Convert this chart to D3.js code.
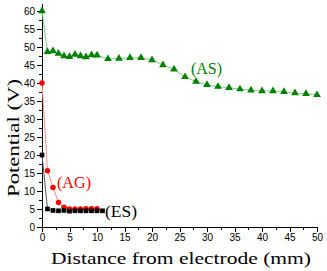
<!DOCTYPE html>
<html>
<head>
  <meta charset="utf-8">
  <script src="https://d3js.org/d3.v7.min.js"></script>
  <style>
    body { margin: 0; background: #fff; }
    .axis path, .axis line { fill: none; stroke: #000; shape-rendering: crispEdges; }
    .axis text { font-family: "Liberation Sans", Arial, sans-serif; font-size: 10px; fill: #000; }
    .lbl { font-family: "Liberation Serif", "Times New Roman", serif; }
  </style>
</head>
<body>
  <div id="chart"></div>
  <script>
    // distance (mm) and potential (V)
    const asX = [0, 1, 2, 3, 4, 5, 6, 7, 8, 9, 10, 12, 14, 16, 18, 20, 22, 24, 26, 28, 30, 32, 34, 36, 38, 40, 42, 44, 46, 48, 50];
    const asY = [60, 48.7, 48.9, 48.2, 47.5, 47.3, 47.9, 47.5, 47.2, 47.8, 47.7, 46.7, 46.8, 47.0, 47.0, 46.4, 45.0, 43.8, 41.7, 40.4, 39.5, 39.0, 38.7, 38.3, 38.0, 37.8, 37.8, 37.6, 37.2, 37.0, 36.7];
    const agX = [0, 1, 2, 3, 4, 5, 6, 7, 8, 9, 10];
    const agY = [40, 15.6, 11.0, 6.8, 5.5, 5.0, 5.0, 5.0, 5.1, 5.1, 5.1];
    const esX = [0, 1, 2, 3, 4, 5, 6, 7, 8, 9, 10, 11];
    const esY = [20, 5.0, 4.6, 4.5, 4.6, 4.4, 4.5, 4.5, 4.5, 4.5, 4.5, 4.5];
    const yTicks = [0, 5, 10, 15, 20, 25, 30, 35, 40, 45, 50, 55, 60];
    const xTicks = [0, 5, 10, 15, 20, 25, 30, 35, 40, 45, 50];

    const width = 327, height = 271;
    const svg = d3.select("#chart").append("svg")
      .attr("width", width).attr("height", height);

    const x = d3.scaleLinear().domain([0, 50]).range([42, 317]);
    const y = d3.scaleLinear().domain([0, 62]).range([227, 227 - 62 * 3.6]);

    // minor ticks first
    const minorX = d3.range(2.5, 50, 5);
    const minorY = d3.range(2.5, 62, 5);
    svg.append("g").attr("class", "axis").attr("transform", "translate(0,227)")
      .call(d3.axisBottom(x).tickValues(minorX).tickSize(3).tickFormat("")).select(".domain").remove();
    svg.append("g").attr("class", "axis").attr("transform", "translate(42,0)")
      .call(d3.axisLeft(y).tickValues(minorY).tickSize(3).tickFormat("")).select(".domain").remove();

    svg.append("g").attr("class", "axis").attr("transform", "translate(0,227)")
      .call(d3.axisBottom(x).tickValues(xTicks).tickSize(5).tickSizeOuter(0).tickPadding(2));
    svg.append("g").attr("class", "axis").attr("transform", "translate(42,0)")
      .call(d3.axisLeft(y).tickValues(yTicks).tickSize(5).tickSizeOuter(0).tickPadding(2));

    function series(xs, ys, lineColor, color, shape, size) {
      const pts = xs.map((d, i) => [d, ys[i]]);
      svg.append("path").datum(pts)
        .attr("fill", "none").attr("stroke", lineColor).attr("stroke-width", 1)
        .attr("d", d3.line().x(d => x(d[0])).y(d => y(d[1])));
      svg.append("g").selectAll("path").data(pts).join("path")
        .attr("transform", d => `translate(${x(d[0])},${y(d[1])})`)
        .attr("d", d3.symbol().type(shape).size(size))
        .attr("fill", color);
    }

    series(asX, asY, "#7ccf7c", "#008000", d3.symbolTriangle, 26);
    series(agX, agY, "#ff8a8a", "#ff0000", d3.symbolCircle, 24);
    series(esX, esY, "#555555", "#000000", d3.symbolSquare, 22);

    svg.append("text").attr("class", "lbl").attr("x", 191).attr("y", 74)
      .attr("font-size", 16).attr("fill", "#008000")
      .attr("textLength", 31).attr("lengthAdjust", "spacingAndGlyphs").text("(AS)");
    svg.append("text").attr("class", "lbl").attr("x", 57).attr("y", 188)
      .attr("font-size", 16).attr("fill", "#ff0000")
      .attr("textLength", 34).attr("lengthAdjust", "spacingAndGlyphs").text("(AG)");
    svg.append("text").attr("class", "lbl").attr("x", 105).attr("y", 217)
      .attr("font-size", 16).attr("fill", "#000")
      .attr("textLength", 32).attr("lengthAdjust", "spacingAndGlyphs").text("(ES)");

    svg.append("text").attr("class", "lbl").attr("x", 181).attr("y", 264)
      .attr("text-anchor", "middle").attr("font-size", 17)
      .attr("textLength", 260).attr("lengthAdjust", "spacingAndGlyphs")
      .text("Distance from electrode (mm)");
    svg.append("text").attr("class", "lbl")
      .attr("transform", "translate(19,138) rotate(-90)")
      .attr("text-anchor", "middle").attr("font-size", 17)
      .attr("textLength", 118).attr("lengthAdjust", "spacingAndGlyphs")
      .text("Potential (V)");
  </script>
</body>
</html>
